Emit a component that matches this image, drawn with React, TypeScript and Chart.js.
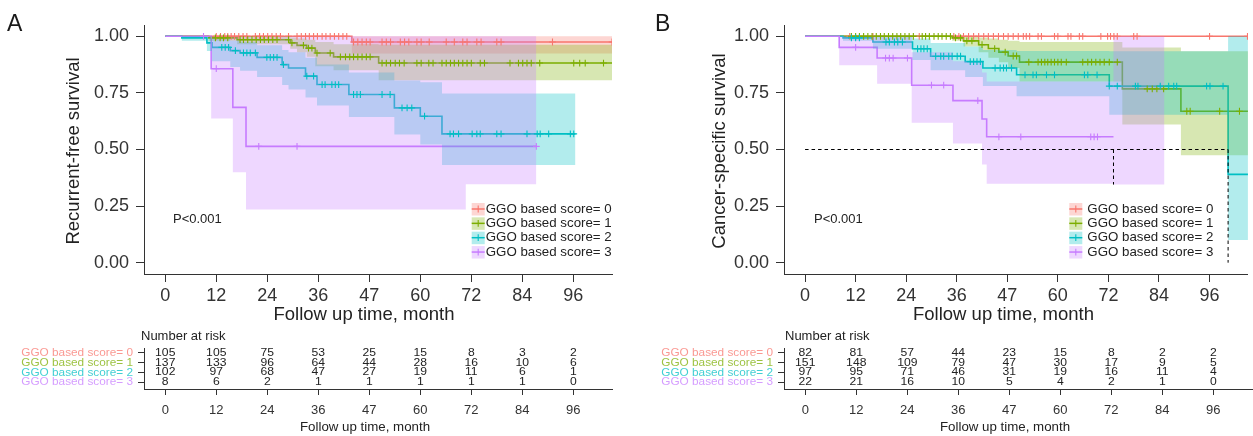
import React, { useEffect, useRef } from "react";
import { Chart, registerables } from "chart.js";
Chart.register(...registerables);

const FONT = "'Liberation Sans', Arial, Helvetica, sans-serif";

const groupLabels = ["GGO based score= 0", "GGO based score= 1", "GGO based score= 2", "GGO based score= 3"];
const groupColors = ["#F8766D", "#7CAE00", "#00BFC4", "#C77CFF"];
const xTickValues = [0, 12, 24, 36, 48, 60, 72, 84, 96];
const xTickLabels = ["0", "12", "24", "36", "47", "60", "72", "84", "96"];
const yTickValues = [0, 0.25, 0.5, 0.75, 1];

// ---------- Panel A: recurrent-free survival ----------
const A0_times = [0, 43.9];
const A0_surv = [1, 0.975];
const A0_lower = [1, 0.924];
const A0_upper = [1, 1];
const A0_censor = [12, 13, 14, 14.7, 15.5, 16.3, 17.3, 18.3, 19.2, 21.2, 22.2, 23.1, 24.1, 25.1, 26.1, 27.1, 29, 31, 32, 33, 33.9, 34.9, 35.8, 36.9, 37.8, 38.8, 39.8, 40.8, 41.8, 42.7, 44.3, 45.3, 46.3, 47.3, 48.2, 51, 52, 53, 55.3, 56.3, 57.3, 59.2, 60.2, 62.1, 66.1, 68, 70, 71, 73.3, 74.3, 78, 79, 91.1, 105.1];

const A1_times = [0, 10.2, 16.9, 29.4, 31, 33.3, 35.3, 39.6, 50.2];
const A1_surv = [1, 0.993, 0.985, 0.971, 0.96, 0.948, 0.926, 0.909, 0.882];
const A1_lower = [1, 0.98, 0.965, 0.945, 0.93, 0.91, 0.868, 0.85, 0.806];
const A1_upper = [1, 1, 1, 0.995, 0.99, 0.985, 0.975, 0.965, 0.963];
const A1_censor = [11.8, 12.9, 13.7, 14.7, 17.6, 18.4, 19.4, 20.4, 21.4, 22.4, 23.3, 24.3, 25.3, 26.3, 29, 29.8, 32.5, 33.7, 34.5, 35.7, 38.8, 41.2, 42.4, 43.4, 44.3, 45.3, 46.3, 47.3, 48.2, 51, 52, 53, 54.1, 55.1, 56.2, 59.2, 60.2, 62, 63, 65.1, 66.1, 67.1, 68, 69, 70, 71, 72, 74.1, 75.1, 81.1, 83.1, 84.1, 85.1, 86.1, 88.1, 96.1, 97.5, 98.8, 103.1];

const A2_times = [0, 3.9, 9.8, 11, 15.3, 17.6, 21.6, 27.5, 29, 33, 35.7, 43.2, 53.9, 60, 65.1];
const A2_surv = [1, 0.993, 0.971, 0.951, 0.937, 0.927, 0.907, 0.875, 0.86, 0.824, 0.787, 0.743, 0.684, 0.647, 0.569];
const A2_lower = [1, 0.98, 0.935, 0.89, 0.865, 0.848, 0.82, 0.785, 0.765, 0.73, 0.694, 0.644, 0.566, 0.522, 0.431];
const A2_upper = [1, 1, 0.995, 0.99, 0.98, 0.975, 0.96, 0.94, 0.93, 0.905, 0.875, 0.84, 0.805, 0.797, 0.747];
const A2_censor = [13.3, 14.1, 14.9, 16.5, 18.4, 19.2, 20, 21.2, 23.9, 24.7, 25.5, 26.3, 27.8, 33.3, 34.9, 36.9, 37.6, 39.2, 40, 40.8, 44.3, 45.1, 45.9, 51, 52.9, 55.7, 56.9, 58, 61, 67, 67.8, 69, 72.2, 73.3, 74.1, 78, 79, 85.1, 87.5, 88.2, 90.2, 95.3, 96.1];

const A3_times = [0, 10.8, 15.9, 19.0, 70.7];
const A3_surv = [1, 0.857, 0.686, 0.514, 0.514];
const A3_lower = [1, 0.637, 0.4, 0.235, 0.346];
const A3_upper = [1, 1, 1, 1, 1];
const A3_censor = [9, 12, 22, 31, 87.3];

const A_lineEnd = [105.1, 105.1, 96.5, 87.3];
const A_ciEnd = [105.1, 105.1, 96.5, 87.3];

// ---------- Panel B: cancer-specific survival ----------
const B0_times = [0];
const B0_surv = [1];
const B0_lower = [1];
const B0_upper = [1];
const B0_censor = [10.6, 16.1, 27.1, 35.3, 36.5, 37.6, 38.8, 40, 41.2, 42.4, 43.5, 44.7, 45.9, 47.1, 48.2, 49.4, 50.6, 51.8, 52.5, 53.3, 55.3, 56.1, 59.2, 60, 62.4, 63.1, 65.1, 65.9, 70.2, 71.8, 72.5, 73.3, 74.1, 78, 78.8, 96, 105];

const B1_times = [0, 34.9, 37.6, 41.2, 43.5, 46, 48.2, 50.9, 75.3, 89.2];
const B1_surv = [1, 0.993, 0.98, 0.963, 0.946, 0.93, 0.913, 0.886, 0.768, 0.669];
const B1_lower = [1, 0.98, 0.955, 0.93, 0.905, 0.885, 0.86, 0.8, 0.61, 0.475];
const B1_upper = [1, 1, 1, 0.995, 0.99, 0.985, 0.98, 0.975, 0.951, 0.934];
const B1_censor = [11, 12, 12.9, 13.9, 14.9, 15.9, 16.9, 17.9, 18.8, 19.8, 20.8, 21.8, 22.7, 23.7, 24.7, 25.7, 27.8, 28.6, 29.5, 30.6, 31.6, 32.5, 33.5, 34.5, 35.7, 36.9, 38.4, 39.6, 42, 45, 47.5, 49.4, 50.2, 53.1, 55.3, 56.1, 56.9, 57.6, 58.4, 59.2, 60, 60.8, 62, 65.9, 67.1, 68, 69, 70, 71, 72.2, 74.1, 81.2, 82.4, 83.5, 85.1, 90.6, 91.4, 98.4, 103.1];

const B2_times = [0, 9.0, 16.1, 25.5, 29.8, 38, 42.2, 50.2, 72.2, 100.4];
const B2_surv = [1, 0.993, 0.975, 0.945, 0.912, 0.888, 0.86, 0.83, 0.78, 0.39];
const B2_lower = [1, 0.98, 0.945, 0.895, 0.85, 0.82, 0.78, 0.735, 0.654, 0.1];
const B2_upper = [1, 1, 1, 0.99, 0.97, 0.955, 0.94, 0.935, 0.934, 1];
const B2_censor = [11, 12, 12.9, 19.2, 20, 21.2, 22, 23.1, 26.7, 27.5, 28.2, 29, 31, 32.2, 32.9, 34.1, 34.9, 36.1, 36.9, 39.2, 40, 40.8, 41.6, 45.1, 46.3, 47.1, 47.8, 49, 52.2, 54.1, 54.9, 57.3, 59.2, 66.3, 67.1, 69.3, 72.2, 74.1, 78.4, 79, 84.3, 86.3, 87.5, 88.2, 95.3, 96.1, 99.2];

const B3_times = [0, 8.1, 17.1, 25.3, 35.1, 42, 43.1, 73.2];
const B3_surv = [1, 0.951, 0.904, 0.784, 0.716, 0.635, 0.556, 0.556];
const B3_lower = [1, 0.872, 0.79, 0.618, 0.526, 0.434, 0.349, 0.345];
const B3_upper = [1, 1, 1, 0.93, 0.89, 0.84, 0.8, 1];
const B3_censor = [12, 19.1, 20, 20.9, 24.3, 30, 32.9, 41, 46, 51.2, 67.8, 68.6, 69.4];

const B_lineEnd = [105.1, 105.1, 105.1, 73.2];
const B_ciEnd = [105.1, 105.1, 105.1, 85.3];
const B_medianY = 0.5;
const B_medianTimes = [73.2, 100.4];
const B_medianFloors = [0.345, 0];

// ---------- Numbers at risk ----------
const riskA = [
  [105, 105, 75, 53, 25, 15, 8, 3, 2],
  [137, 133, 96, 64, 44, 28, 16, 10, 6],
  [102, 97, 68, 47, 27, 19, 11, 6, 1],
  [8, 6, 2, 1, 1, 1, 1, 1, 0],
];
const riskB = [
  [82, 81, 57, 44, 23, 15, 8, 2, 2],
  [151, 148, 109, 79, 47, 30, 17, 9, 5],
  [97, 95, 71, 46, 31, 19, 16, 11, 4],
  [22, 21, 16, 10, 5, 4, 2, 1, 0],
];

type Group = {
  times: number[];
  surv: number[];
  lower: number[];
  upper: number[];
  lineEnd: number;
  ciEnd: number;
  censor: number[];
};

const panelA: Group[] = [
  { times: A0_times, surv: A0_surv, lower: A0_lower, upper: A0_upper, lineEnd: A_lineEnd[0], ciEnd: A_ciEnd[0], censor: A0_censor },
  { times: A1_times, surv: A1_surv, lower: A1_lower, upper: A1_upper, lineEnd: A_lineEnd[1], ciEnd: A_ciEnd[1], censor: A1_censor },
  { times: A2_times, surv: A2_surv, lower: A2_lower, upper: A2_upper, lineEnd: A_lineEnd[2], ciEnd: A_ciEnd[2], censor: A2_censor },
  { times: A3_times, surv: A3_surv, lower: A3_lower, upper: A3_upper, lineEnd: A_lineEnd[3], ciEnd: A_ciEnd[3], censor: A3_censor },
];
const panelB: Group[] = [
  { times: B0_times, surv: B0_surv, lower: B0_lower, upper: B0_upper, lineEnd: B_lineEnd[0], ciEnd: B_ciEnd[0], censor: B0_censor },
  { times: B1_times, surv: B1_surv, lower: B1_lower, upper: B1_upper, lineEnd: B_lineEnd[1], ciEnd: B_ciEnd[1], censor: B1_censor },
  { times: B2_times, surv: B2_surv, lower: B2_lower, upper: B2_upper, lineEnd: B_lineEnd[2], ciEnd: B_ciEnd[2], censor: B2_censor },
  { times: B3_times, surv: B3_surv, lower: B3_lower, upper: B3_upper, lineEnd: B_lineEnd[3], ciEnd: B_ciEnd[3], censor: B3_censor },
];

function hexA(hex: string, a: number) {
  const n = parseInt(hex.slice(1), 16);
  return `rgba(${n >> 16},${(n >> 8) & 255},${n & 255},${a})`;
}

function valueAt(times: number[], vals: number[], t: number) {
  let v = vals[0];
  for (let k = 0; k < times.length; k++) if (times[k] <= t) v = vals[k];
  return v;
}

function stepSeries(times: number[], vals: number[], end: number) {
  const pts: { x: number; y: number }[] = [];
  for (let k = 0; k < times.length; k++) if (times[k] <= end) pts.push({ x: times[k], y: vals[k] });
  pts.push({ x: end, y: valueAt(times, vals, end) });
  return pts;
}

function kmDatasets(groups: Group[], extra: any[]) {
  const marks: any[] = [];
  const ribbons: any[] = [];
  const lines: any[] = [];
  for (let i = groups.length - 1; i >= 0; i--) {
    const g = groups[i];
    const c = groupColors[i];
    marks.push({
      data: g.censor.map((t) => ({ x: t, y: valueAt(g.times, g.surv, t) })),
      showLine: false,
      pointStyle: "cross",
      pointRadius: 3.4,
      pointBorderWidth: 1.1,
      pointBorderColor: c,
      pointBackgroundColor: c,
    });
    ribbons.push({
      data: stepSeries(g.times, g.upper, g.ciEnd),
      stepped: true,
      borderWidth: 0,
      borderColor: "rgba(0,0,0,0)",
      pointRadius: 0,
      fill: "+1",
      backgroundColor: hexA(c, 0.3),
    });
    ribbons.push({
      data: stepSeries(g.times, g.lower, g.ciEnd),
      stepped: true,
      borderWidth: 0,
      borderColor: "rgba(0,0,0,0)",
      pointRadius: 0,
      fill: false,
    });
    lines.push({
      data: stepSeries(g.times, g.surv, g.lineEnd),
      stepped: true,
      borderColor: c,
      borderWidth: 1.6,
      pointRadius: 0,
      fill: false,
    });
  }
  return [...extra, ...marks, ...ribbons, ...lines];
}

function medianDatasets() {
  const ds: any[] = [];
  const dash = { borderColor: "#000", borderWidth: 1, borderDash: [3.5, 3], pointRadius: 0, fill: false };
  ds.push({ ...dash, data: [{ x: 0, y: B_medianY }, { x: Math.max(...B_medianTimes), y: B_medianY }] });
  B_medianTimes.forEach((t, k) => {
    ds.push({ ...dash, data: [{ x: t, y: B_medianY }, { x: t, y: B_medianFloors[k] }] });
  });
  return ds;
}

type KmOpts = {
  area: { left: number; right: number; top: number; bottom: number; w: number; h: number };
  letter: string;
  letterX: number;
  yTitle: string;
  yTitleX: number;
  xTitleX: number;
  pX: number;
  keyX: number;
  textX: number;
};

function kmExtras(o: KmOpts) {
  return {
    id: "kmExtras",
    afterDraw(chart: any) {
      const ctx = chart.ctx;
      ctx.save();
      ctx.fillStyle = "#1a1a1a";
      ctx.font = `23px ${FONT}`;
      ctx.textAlign = "left";
      ctx.textBaseline = "alphabetic";
      ctx.fillText(o.letter, o.letterX, 30.5);

      ctx.fillStyle = "#222";
      ctx.font = `18.5px ${FONT}`;
      ctx.textAlign = "center";
      ctx.textBaseline = "middle";
      ctx.save();
      ctx.translate(o.yTitleX, 151);
      ctx.rotate(-Math.PI / 2);
      ctx.fillText(o.yTitle, 0, 0);
      ctx.restore();
      ctx.fillText("Follow up time, month", o.xTitleX, 315);

      ctx.font = `13px ${FONT}`;
      ctx.textAlign = "left";
      ctx.fillText("P<0.001", o.pX, 219);

      // legend
      const rowH = 14.35;
      for (let i = 0; i < groupLabels.length; i++) {
        const cy = 209 + i * rowH;
        const c = groupColors[i];
        ctx.fillStyle = hexA(c, 0.3);
        ctx.fillRect(o.keyX, cy - 6, 13, 12.5);
        ctx.strokeStyle = c;
        ctx.lineWidth = 1.5;
        ctx.beginPath();
        ctx.moveTo(o.keyX, cy);
        ctx.lineTo(o.keyX + 13, cy);
        ctx.stroke();
        ctx.lineWidth = 1.1;
        ctx.beginPath();
        ctx.moveTo(o.keyX + 6.5, cy - 3.4);
        ctx.lineTo(o.keyX + 6.5, cy + 3.4);
        ctx.stroke();
        ctx.fillStyle = "#222";
        ctx.font = `13.3px ${FONT}`;
        ctx.textBaseline = "middle";
        ctx.fillText(groupLabels[i], o.textX, cy);
      }
      ctx.restore();
    },
  };
}

function kmConfig(groups: Group[], extra: any[], o: KmOpts): any {
  const a = o.area;
  return {
    type: "line",
    data: { datasets: kmDatasets(groups, extra) },
    options: {
      animation: false,
      responsive: false,
      events: [],
      layout: { padding: { left: 0, top: a.top, right: a.w - a.right, bottom: 0 } },
      plugins: { legend: { display: false }, tooltip: { enabled: false }, title: { display: false } },
      scales: {
        x: {
          type: "linear",
          min: -5,
          max: 105.1,
          afterBuildTicks: (s: any) => {
            s.ticks = xTickValues.map((v) => ({ value: v }));
          },
          afterFit: (s: any) => {
            s.height = a.h - a.bottom;
          },
          ticks: {
            autoSkip: false,
            maxRotation: 0,
            padding: 3,
            color: "#333",
            font: { family: FONT, size: 18 },
            callback: (v: any) => {
              const k = xTickValues.indexOf(Number(v));
              return k >= 0 ? xTickLabels[k] : "";
            },
          },
          grid: { drawOnChartArea: false, drawTicks: true, tickLength: 8, color: "#333", lineWidth: 1 },
          border: { display: true, color: "#333", width: 1 },
        },
        y: {
          type: "linear",
          min: -0.05,
          max: 1.05,
          afterBuildTicks: (s: any) => {
            s.ticks = yTickValues.map((v) => ({ value: v }));
          },
          afterFit: (s: any) => {
            s.width = a.left;
          },
          ticks: {
            autoSkip: false,
            padding: 7,
            color: "#333",
            font: { family: FONT, size: 18 },
            callback: (v: any) => Number(v).toFixed(2),
          },
          grid: { drawOnChartArea: false, drawTicks: true, tickLength: 8, color: "#333", lineWidth: 1 },
          border: { display: true, color: "#333", width: 1 },
        },
      },
    },
    plugins: [kmExtras(o)],
  };
}

type RiskOpts = {
  area: { left: number; right: number; top: number; bottom: number; w: number; h: number };
  headX: number;
  titleX: number;
};

function riskExtras(rows: number[][], o: RiskOpts) {
  return {
    id: "riskExtras",
    afterDraw(chart: any) {
      const ctx = chart.ctx;
      ctx.save();
      ctx.fillStyle = "#222";
      ctx.font = `13px ${FONT}`;
      ctx.textAlign = "left";
      ctx.textBaseline = "middle";
      ctx.fillText("Number at risk", o.headX, 6.5);
      ctx.font = `13.3px ${FONT}`;
      ctx.textAlign = "center";
      ctx.fillText("Follow up time, month", o.titleX, 97);

      ctx.font = `12.8px ${FONT}`;
      rows.forEach((r, i) => {
        const meta = chart.getDatasetMeta(i);
        meta.data.forEach((pt: any, k: number) => {
          ctx.save();
          ctx.translate(pt.x, pt.y);
          ctx.scale(0.95, 0.86);
          ctx.fillText(String(r[k]), 0, 0);
          ctx.restore();
        });
      });
      ctx.restore();
    },
  };
}

function riskConfig(rows: number[][], o: RiskOpts): any {
  const a = o.area;
  return {
    type: "line",
    data: {
      datasets: rows.map((r, i) => ({
        data: xTickValues.map((t) => ({ x: t, y: rows.length - 1 - i })),
        showLine: false,
        pointRadius: 0,
      })),
    },
    options: {
      animation: false,
      responsive: false,
      events: [],
      layout: { padding: { left: 0, top: a.top, right: a.w - a.right, bottom: 0 } },
      plugins: { legend: { display: false }, tooltip: { enabled: false }, title: { display: false } },
      scales: {
        x: {
          type: "linear",
          min: -5,
          max: 105.1,
          afterBuildTicks: (s: any) => {
            s.ticks = xTickValues.map((v) => ({ value: v }));
          },
          afterFit: (s: any) => {
            s.height = a.h - a.bottom;
          },
          ticks: {
            autoSkip: false,
            maxRotation: 0,
            padding: 8,
            color: "#333",
            font: { family: FONT, size: 13 },
            callback: (v: any) => {
              const k = xTickValues.indexOf(Number(v));
              return k >= 0 ? xTickLabels[k] : "";
            },
          },
          grid: { drawOnChartArea: false, drawTicks: true, tickLength: 6, color: "#333", lineWidth: 1 },
          border: { display: true, color: "#333", width: 1 },
        },
        y: {
          type: "linear",
          min: -0.7,
          max: 3.5,
          afterBuildTicks: (s: any) => {
            s.ticks = [0, 1, 2, 3].map((v) => ({ value: v }));
          },
          afterFit: (s: any) => {
            s.width = a.left;
          },
          ticks: {
            autoSkip: false,
            padding: 5,
            font: { family: FONT, size: 11.8 },
            color: (c: any) => hexA(groupColors[3 - Math.round(c.tick ? c.tick.value : 0)], 0.75),
            callback: (v: any) => groupLabels[3 - Math.round(Number(v))],
          },
          grid: { drawOnChartArea: false, drawTicks: true, tickLength: 6, color: "#333", lineWidth: 1 },
          border: { display: true, color: "#333", width: 1 },
        },
      },
    },
    plugins: [riskExtras(rows, o)],
  };
}

export default function App() {
  const kmA = useRef<HTMLCanvasElement>(null);
  const kmB = useRef<HTMLCanvasElement>(null);
  const rkA = useRef<HTMLCanvasElement>(null);
  const rkB = useRef<HTMLCanvasElement>(null);

  useEffect(() => {
    Chart.defaults.font.family = FONT;
    const charts: Chart[] = [];
    charts.push(
      new Chart(
        kmA.current as HTMLCanvasElement,
        kmConfig(panelA, [], {
          area: { left: 144, right: 612, top: 25, bottom: 274, w: 630, h: 330 },
          letter: "A",
          letterX: 7,
          yTitle: "Recurrent-free survival",
          yTitleX: 74,
          xTitleX: 364,
          pX: 173,
          keyX: 471.7,
          textX: 485.7,
        })
      )
    );
    charts.push(
      new Chart(
        kmB.current as HTMLCanvasElement,
        kmConfig(panelB, medianDatasets(), {
          area: { left: 154, right: 622, top: 25, bottom: 274, w: 623, h: 330 },
          letter: "B",
          letterX: 25,
          yTitle: "Cancer-specific survival",
          yTitleX: 90,
          xTitleX: 373.5,
          pX: 184,
          keyX: 439.3,
          textX: 457.3,
        })
      )
    );
    charts.push(
      new Chart(
        rkA.current as HTMLCanvasElement,
        riskConfig(riskA, {
          area: { left: 144, right: 612, top: 18, bottom: 59, w: 630, h: 106 },
          headX: 141,
          titleX: 365,
        })
      )
    );
    charts.push(
      new Chart(
        rkB.current as HTMLCanvasElement,
        riskConfig(riskB, {
          area: { left: 154, right: 622, top: 18, bottom: 59, w: 623, h: 106 },
          headX: 155,
          titleX: 375,
        })
      )
    );
    return () => charts.forEach((c) => c.destroy());
  }, []);

  const pos = (l: number, t: number, w: number, h: number): React.CSSProperties => ({
    position: "absolute",
    left: l,
    top: t,
    width: w,
    height: h,
  });

  return (
    <div style={{ position: "absolute", left: 0, top: 0, width: 1253, height: 436, background: "#fff" }}>
      <canvas ref={kmA} width={630} height={330} style={pos(0, 0, 630, 330)} />
      <canvas ref={kmB} width={623} height={330} style={pos(630, 0, 623, 330)} />
      <canvas ref={rkA} width={630} height={106} style={pos(0, 330, 630, 106)} />
      <canvas ref={rkB} width={623} height={106} style={pos(630, 330, 623, 106)} />
    </div>
  );
}
